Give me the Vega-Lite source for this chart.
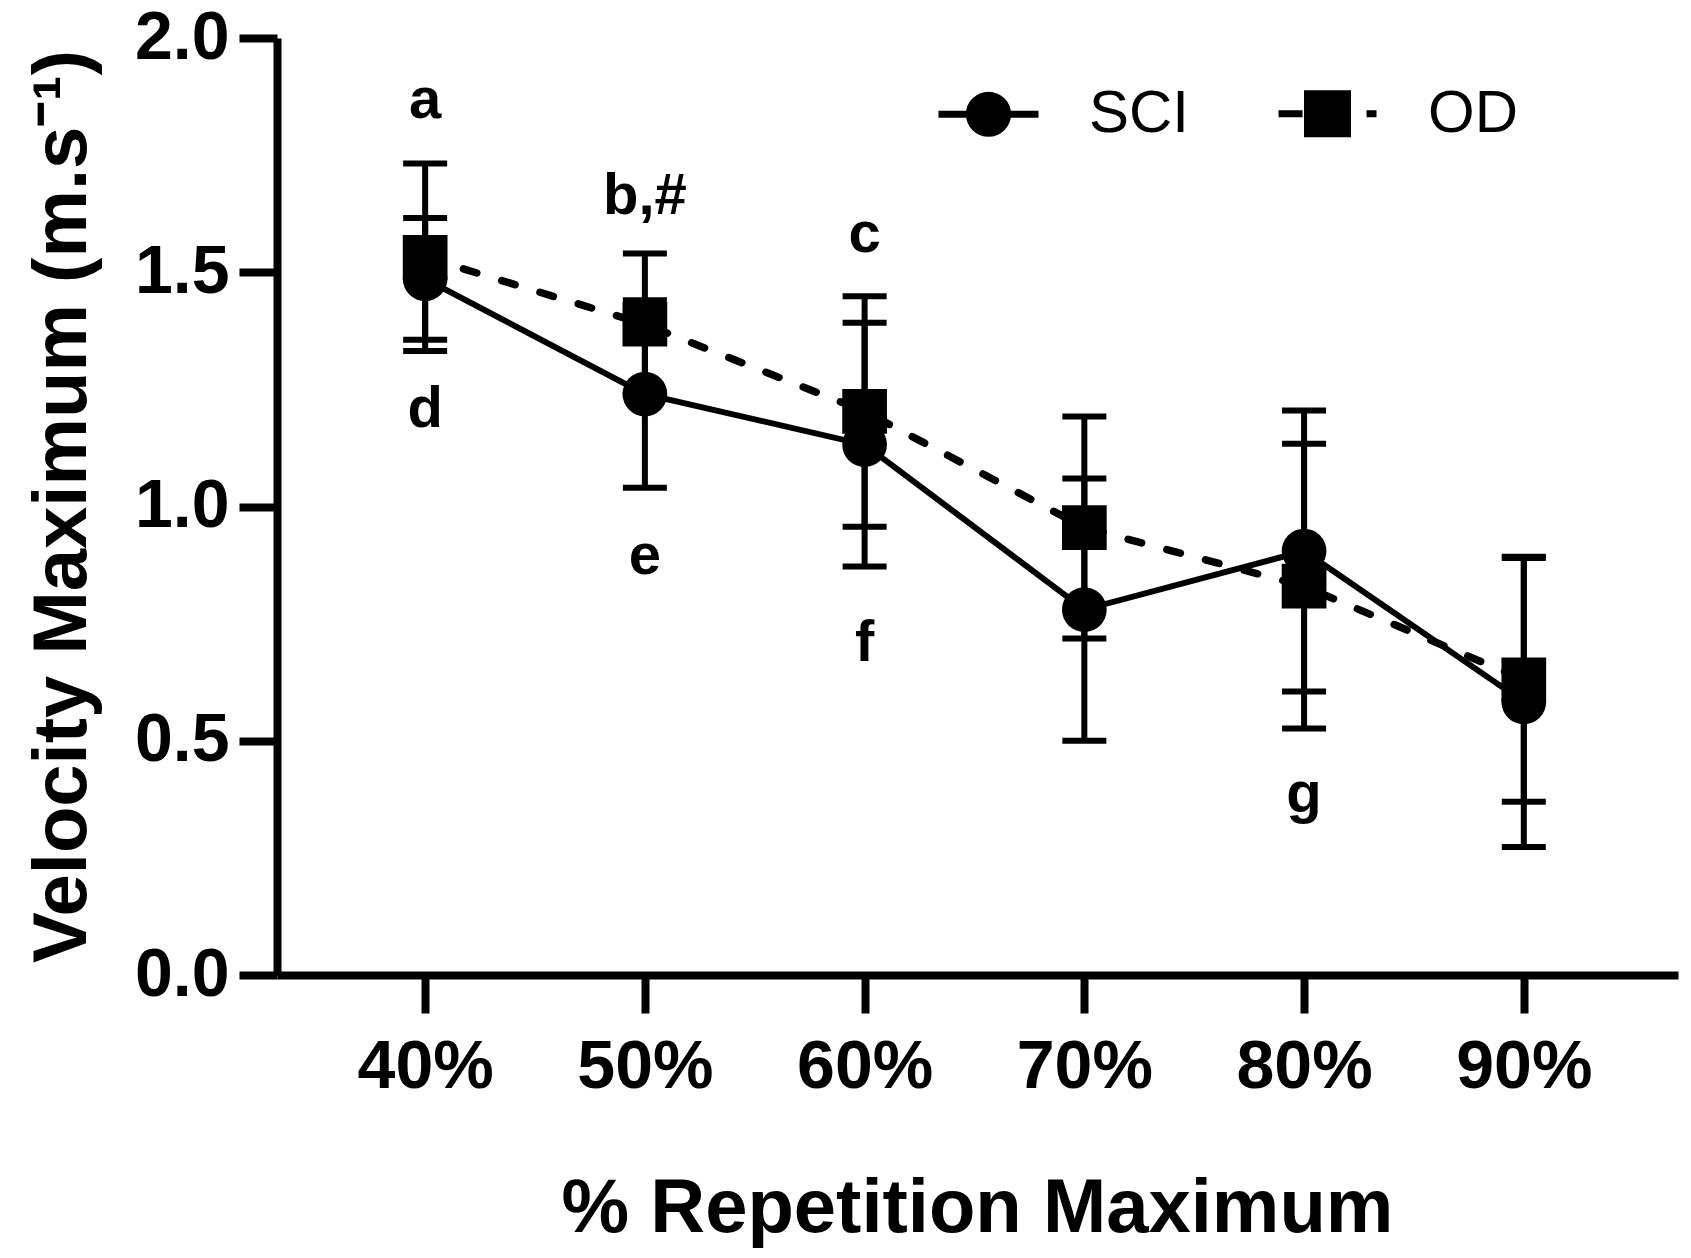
{
  "$schema": "https://vega.github.io/schema/vega-lite/v6.json",
  "width": 1401,
  "height": 937,
  "autosize": "none",
  "padding": {"left": 277, "top": 38, "right": 13, "bottom": 283},
  "background": "white",
  "config": {
    "view": {"stroke": null},
    "font": "Liberation Sans",
    "axis": {"domainColor": "black", "tickColor": "black", "labelColor": "black", "titleColor": "black", "grid": false}
  },
  "datasets": {
    "stats": [
      {"load": "40%", "group": "SCI", "mean": 1.486, "lo": 1.356, "hi": 1.616},
      {"load": "50%", "group": "SCI", "mean": 1.24, "lo": 1.04, "hi": 1.44},
      {"load": "60%", "group": "SCI", "mean": 1.132, "lo": 0.872, "hi": 1.392},
      {"load": "70%", "group": "SCI", "mean": 0.78, "lo": 0.5, "hi": 1.06},
      {"load": "80%", "group": "SCI", "mean": 0.905, "lo": 0.605, "hi": 1.205},
      {"load": "90%", "group": "SCI", "mean": 0.583, "lo": 0.273, "hi": 0.893},
      {"load": "40%", "group": "OD", "mean": 1.532, "lo": 1.332, "hi": 1.732},
      {"load": "50%", "group": "OD", "mean": 1.389, "lo": 1.238, "hi": 1.54},
      {"load": "60%", "group": "OD", "mean": 1.203, "lo": 0.957, "hi": 1.449},
      {"load": "70%", "group": "OD", "mean": 0.955, "lo": 0.718, "hi": 1.192},
      {"load": "80%", "group": "OD", "mean": 0.83, "lo": 0.526, "hi": 1.134},
      {"load": "90%", "group": "OD", "mean": 0.63, "lo": 0.37, "hi": 0.89}
    ],
    "notes": [
      {"load": "40%", "label": "a", "pos": 1.829},
      {"load": "40%", "label": "d", "pos": 1.169},
      {"load": "50%", "label": "b,#", "pos": 1.625},
      {"load": "50%", "label": "e", "pos": 0.856},
      {"load": "60%", "label": "c", "pos": 1.544},
      {"load": "60%", "label": "f", "pos": 0.671},
      {"load": "80%", "label": "g", "pos": 0.347}
    ]
  },
  "encoding": {
    "x": {
      "field": "load",
      "type": "ordinal",
      "scale": {"type": "point", "padding": 0.688, "align": 0.49, "domain": ["40%", "50%", "60%", "70%", "80%", "90%"]},
      "axis": {
        "title": "% Repetition Maximum",
        "labelAngle": 0,
        "labelFontSize": 68,
        "labelFontWeight": "bold",
        "labelPadding": 20,
        "tickSize": 38,
        "tickWidth": 8,
        "domainWidth": 8,
        "titleFontSize": 76,
        "titleFontWeight": "bold",
        "titleX": 700,
        "titleY": 256,
        "titleBaseline": "alphabetic",
        "titleAlign": "center"
      }
    }
  },
  "layer": [
    {
      "data": {"name": "stats"},
      "transform": [{"filter": "datum.group === 'SCI'"}],
      "mark": {"type": "line", "color": "black", "strokeWidth": 6},
      "encoding": {
        "y": {
          "field": "mean",
          "type": "quantitative",
          "title": "Velocity Maximum (m.s⁻¹)",
          "scale": {"domain": [0, 2], "nice": false},
          "axis": {
            "values": [0, 0.5, 1, 1.5, 2],
            "format": ".1f",
            "labelFontSize": 68,
            "labelFontWeight": "bold",
            "labelPadding": 10,
            "tickSize": 38,
            "tickWidth": 8,
            "domainWidth": 8,
            "labelFlush": false,
            "labelOverlap": false,
            "titleFontSize": 76,
            "titleFontWeight": "bold",
            "titleAngle": -90,
            "titleX": -192,
            "titleY": 468,
            "titleBaseline": "alphabetic",
            "titleAlign": "center"
          }
        }
      }
    },
    {
      "data": {"name": "stats"},
      "transform": [{"filter": "datum.group === 'OD'"}],
      "mark": {"type": "line", "color": "black", "strokeWidth": 7.5, "strokeDash": [14, 26], "strokeCap": "round"},
      "encoding": {
        "y": {"field": "mean", "type": "quantitative", "title": "Velocity Maximum (m.s⁻¹)"}
      }
    },
    {
      "data": {"name": "stats"},
      "mark": {"type": "rule", "color": "black", "strokeWidth": 6},
      "encoding": {
        "y": {"field": "lo", "type": "quantitative", "title": "Velocity Maximum (m.s⁻¹)"},
        "y2": {"field": "hi"}
      }
    },
    {
      "data": {"name": "stats"},
      "mark": {"type": "tick", "orient": "horizontal", "color": "black", "size": 44, "thickness": 6, "opacity": 1},
      "encoding": {
        "y": {"field": "lo", "type": "quantitative", "title": "Velocity Maximum (m.s⁻¹)"}
      }
    },
    {
      "data": {"name": "stats"},
      "mark": {"type": "tick", "orient": "horizontal", "color": "black", "size": 44, "thickness": 6, "opacity": 1},
      "encoding": {
        "y": {"field": "hi", "type": "quantitative", "title": "Velocity Maximum (m.s⁻¹)"}
      }
    },
    {
      "data": {"name": "stats"},
      "transform": [{"filter": "datum.group === 'SCI'"}],
      "mark": {"type": "point", "shape": "circle", "filled": true, "color": "black", "opacity": 1, "strokeWidth": 0, "size": 2000},
      "encoding": {
        "y": {"field": "mean", "type": "quantitative", "title": "Velocity Maximum (m.s⁻¹)"}
      }
    },
    {
      "data": {"name": "stats"},
      "transform": [{"filter": "datum.group === 'OD'"}],
      "mark": {"type": "point", "shape": "square", "filled": true, "color": "black", "opacity": 1, "strokeWidth": 0, "size": 2000},
      "encoding": {
        "y": {"field": "mean", "type": "quantitative", "title": "Velocity Maximum (m.s⁻¹)"}
      }
    },
    {
      "data": {"name": "stats"},
      "transform": [{"filter": "false"}],
      "mark": {"type": "point", "filled": false, "color": "black", "opacity": 1, "strokeWidth": 7},
      "encoding": {
        "y": {"field": "mean", "type": "quantitative", "title": "Velocity Maximum (m.s⁻¹)"},
        "shape": {
          "field": "group",
          "type": "nominal",
          "scale": {
            "domain": ["SCI", "OD"],
            "range": [
              "M-1,0H1M-0.38,0A0.38,0.38,0,1,0,0.38,0A0.38,0.38,0,1,0,-0.38,0ZM-0.27,0A0.27,0.27,0,1,0,0.27,0A0.27,0.27,0,1,0,-0.27,0ZM-0.16,0A0.16,0.16,0,1,0,0.16,0A0.16,0.16,0,1,0,-0.16,0ZM-0.06,0A0.06,0.06,0,1,0,0.06,0A0.06,0.06,0,1,0,-0.06,0Z",
              "M-0.98,0H-0.5M0.78,0H0.98M-0.4,-0.4H0.4V0.4H-0.4ZM-0.28,-0.28H0.28V0.28H-0.28ZM-0.16,-0.16H0.16V0.16H-0.16ZM-0.05,-0.05H0.05V0.05H-0.05Z"
            ]
          },
          "legend": {
            "orient": "none",
            "legendX": 658,
            "legendY": 22,
            "direction": "horizontal",
            "title": null,
            "symbolSize": 10000,
            "symbolStrokeWidth": 7,
            "symbolFillColor": "black",
            "symbolStrokeColor": "black",
            "symbolOpacity": 1,
            "labelFontSize": 60,
            "labelColor": "black",
            "labelOffset": 47,
            "columnPadding": 74,
            "padding": 0
          }
        }
      }
    },
    {
      "data": {"name": "notes"},
      "mark": {"type": "text", "color": "black", "fontSize": 58, "fontWeight": "bold", "align": "center", "baseline": "alphabetic"},
      "encoding": {
        "y": {"field": "pos", "type": "quantitative", "title": "Velocity Maximum (m.s⁻¹)"},
        "text": {"field": "label"}
      }
    }
  ]
}
